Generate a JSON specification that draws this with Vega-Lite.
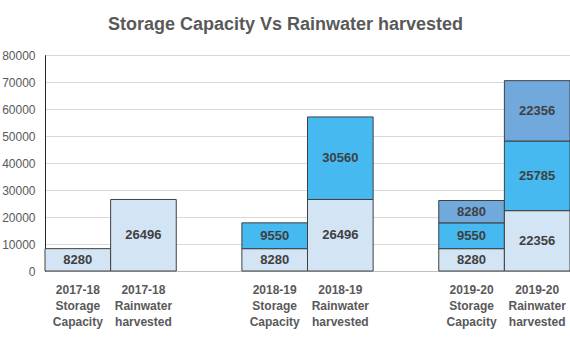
{
  "$schema": "https://vega.github.io/schema/vega-lite/v6.json",
  "autosize": "none",
  "width": 525,
  "height": 216,
  "padding": {"left": 45, "top": 55, "right": 0, "bottom": 79},
  "background": "white",
  "config": {
    "view": {"stroke": "#262626", "strokeWidth": 1},
    "axisY": {"labelOverlap": false, "labelBound": false}
  },
  "title": {
    "text": "Storage Capacity Vs Rainwater harvested",
    "font": "Liberation Sans",
    "fontSize": 18,
    "fontWeight": "bold",
    "color": "#595959",
    "anchor": "middle",
    "dx": -22,
    "offset": 15
  },
  "data": {
    "values": [
      {"category": "2017-18|Storage|Capacity", "segment": "base", "value": 8280},
      {"category": "2017-18|Rainwater|harvested", "segment": "base", "value": 26496},
      {"category": "2018-19|Storage|Capacity", "segment": "base", "value": 8280},
      {"category": "2018-19|Storage|Capacity", "segment": "mid", "value": 9550},
      {"category": "2018-19|Rainwater|harvested", "segment": "base", "value": 26496},
      {"category": "2018-19|Rainwater|harvested", "segment": "mid", "value": 30560},
      {"category": "2019-20|Storage|Capacity", "segment": "base", "value": 8280},
      {"category": "2019-20|Storage|Capacity", "segment": "mid", "value": 9550},
      {"category": "2019-20|Storage|Capacity", "segment": "top", "value": 8280},
      {"category": "2019-20|Rainwater|harvested", "segment": "base", "value": 22356},
      {"category": "2019-20|Rainwater|harvested", "segment": "mid", "value": 25785},
      {"category": "2019-20|Rainwater|harvested", "segment": "top", "value": 22356}
    ]
  },
  "transform": [
    {"calculate": "datum.segment === 'base' ? 0 : (datum.segment === 'mid' ? 1 : 2)", "as": "order"},
    {"stack": "value", "groupby": ["category"], "sort": [{"field": "order"}], "as": ["v0", "v1"]},
    {"calculate": "(datum.v0 + datum.v1) / 2", "as": "vmid"}
  ],
  "encoding": {
    "x": {
      "field": "category",
      "type": "nominal",
      "sort": null,
      "scale": {
        "domain": ["2017-18|Storage|Capacity", "2017-18|Rainwater|harvested", "gap1", "2018-19|Storage|Capacity", "2018-19|Rainwater|harvested", "gap2", "2019-20|Storage|Capacity", "2019-20|Rainwater|harvested"],
        "paddingInner": 0,
        "paddingOuter": 0
      },
      "axis": {
        "title": null,
        "labelAngle": 0,
        "labelExpr": "indexof(datum.value, '|') < 0 ? '' : split(datum.value, '|')",
        "labelFont": "Liberation Sans",
        "labelFontSize": 12,
        "labelFontWeight": "bold",
        "labelColor": "#595959",
        "labelLineHeight": 16,
        "labelPadding": 13,
        "labelBaseline": "top",
        "ticks": false,
        "domainColor": "#bfbfbf",
        "grid": false
      }
    }
  },
  "layer": [
    {
      "mark": {"type": "bar", "stroke": "#404040", "strokeWidth": 1},
      "encoding": {
        "y": {
          "field": "v0",
          "type": "quantitative",
          "scale": {"domain": [0, 80000], "nice": false},
          "axis": {
            "title": null,
            "values": [0, 10000, 20000, 30000, 40000, 50000, 60000, 70000, 80000],
            "format": "d",
            "labelOverlap": false,
            "labelFont": "Liberation Sans",
            "labelFontSize": 12,
            "labelColor": "#595959",
            "labelPadding": 10,
            "ticks": false,
            "domainColor": "#262626",
            "gridColor": "#d9d9d9",
            "gridWidth": 1
          }
        },
        "y2": {"field": "v1"},
        "color": {
          "field": "segment",
          "type": "nominal",
          "scale": {"domain": ["base", "mid", "top"], "range": ["#d3e4f4", "#45b9f0", "#72a9dd"]},
          "legend": null
        }
      }
    },
    {
      "mark": {"type": "text", "font": "Liberation Sans", "fontSize": 13, "fontWeight": "bold", "color": "#404040", "baseline": "middle"},
      "encoding": {
        "y": {
          "field": "vmid",
          "type": "quantitative",
          "axis": {
            "title": null,
            "values": [0, 10000, 20000, 30000, 40000, 50000, 60000, 70000, 80000],
            "format": "d",
            "labelOverlap": false
          }
        },
        "text": {"field": "value", "type": "quantitative", "format": "d"}
      }
    }
  ]
}
